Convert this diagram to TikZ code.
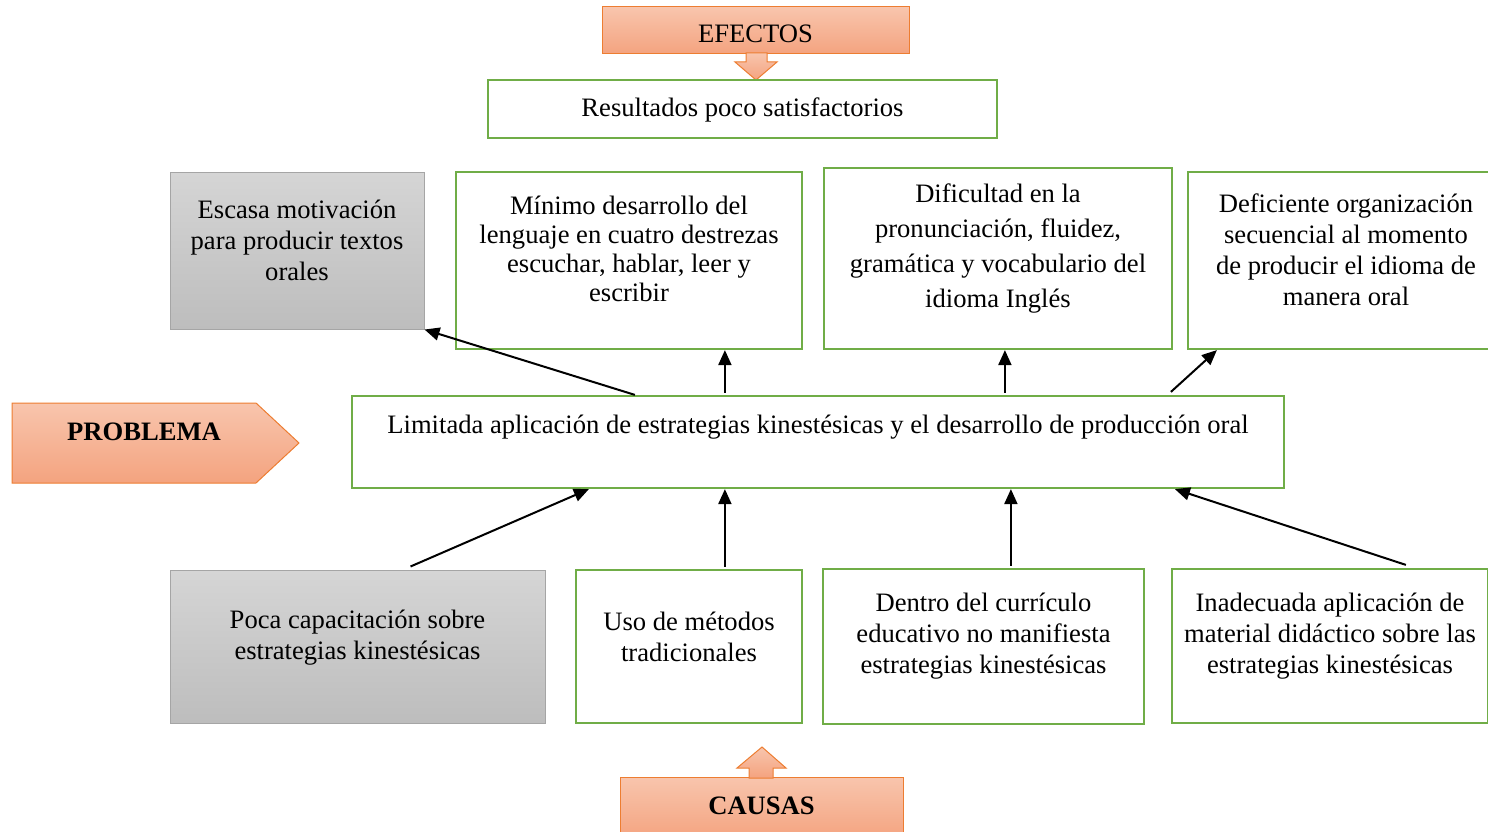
\documentclass[tikz,border=0pt]{standalone}
\usepackage{fontspec}
\setmainfont{Liberation Serif}
\usetikzlibrary{arrows.meta}
\definecolor{gbord}{HTML}{70AD47}
\definecolor{otop}{HTML}{F8C5AD}
\definecolor{obot}{HTML}{F4A37F}
\definecolor{obord}{HTML}{ED7D31}
\definecolor{gtop}{HTML}{D5D5D5}
\definecolor{gbot}{HTML}{BDBDBD}
\definecolor{gyb}{HTML}{A5A5A5}
\tikzset{
  gbox/.style={draw=gbord, line width=2.2pt, fill=white, inner sep=0pt},
  graybox/.style={draw=gyb, line width=1pt, top color=gtop, bottom color=gbot, inner sep=0pt},
  obox/.style={draw=obord, line width=1pt, top color=otop, bottom color=obot},
  txt/.style={align=center, inner sep=0pt, font=\fontsize{26.6}{31}\selectfont},
  conn/.style={line width=2pt, -{Triangle[length=15pt,width=13pt]}}
}
\begin{document}
\begin{tikzpicture}[x=1pt,y=-1pt]
\useasboundingbox (0,0) rectangle (1488,832);
% EFECTOS
\node[obox, inner sep=0pt, minimum width=307pt, minimum height=47pt] (efe) at (755.5,30.5) {};
\node[txt] (efet) at (755.5,34) {EFECTOS};
\path[obox] (746,53) -- (767,53) -- (767,62) -- (777,62) -- (756,80) -- (735,62) -- (746,62) -- cycle;
% Resultados
\node[gbox, minimum width=509pt, minimum height=58pt] (res) at (742.5,109) {};
\node[txt] (rest) at (742.5,110) {Resultados poco satisfactorios};
% effects row
\node[graybox, minimum width=254pt, minimum height=157pt] (esc) at (297,250.5) {};
\node[txt] (esct) at (297,240) {Escasa motivación\\para producir textos\\orales};
\node[gbox, minimum width=346pt, minimum height=177pt] (min) at (629,260.5) {};
\node[txt, font=\fontsize{26.6}{29}\selectfont] (mint) at (629,249) {Mínimo desarrollo del\\lenguaje en cuatro destrezas\\escuchar, hablar, leer y\\escribir};
\node[gbox, minimum width=348pt, minimum height=181pt] (dif) at (998,258.5) {};
\node[txt, font=\fontsize{26.6}{35}\selectfont] (dift) at (998,248.5) {Dificultad en la\\pronunciación, fluidez,\\gramática y vocabulario del\\idioma Inglés};
\node[gbox, minimum width=316pt, minimum height=177pt] (def) at (1346,260.5) {};
\node[txt] (deft) at (1346,250) {Deficiente organización\\secuencial al momento\\de producir el idioma de\\manera oral};
% PROBLEMA
\path[obox] (12,403) -- (256,403) -- (299,443) -- (256,483) -- (12,483) -- cycle;
\node[txt, font=\fontsize{26.6}{31}\selectfont\bfseries] (prob) at (144,432) {PROBLEMA};
% Limitada
\node[gbox, minimum width=932pt, minimum height=92pt] (lim) at (818,442) {};
\node[txt] (limt) at (818,427) {Limitada aplicación de estrategias kinestésicas y el desarrollo de producción oral};
% causes row
\node[graybox, minimum width=375pt, minimum height=153pt] (poca) at (357.5,646.5) {};
\node[txt] (pocat) at (357.5,637.5) {Poca capacitación sobre\\estrategias kinestésicas};
\node[gbox, minimum width=226pt, minimum height=153pt] (uso) at (689,646.5) {};
\node[txt] (usot) at (689,636.5) {Uso de métodos\\tradicionales};
\node[gbox, minimum width=321pt, minimum height=155pt] (den) at (983.5,646.5) {};
\node[txt] (dent) at (983.5,636.5) {Dentro del currículo\\educativo no manifiesta\\estrategias kinestésicas};
\node[gbox, minimum width=316pt, minimum height=154pt] (ina) at (1330,646) {};
\node[txt] (inat) at (1330,636) {Inadecuada aplicación de\\material didáctico sobre las\\estrategias kinestésicas};
% CAUSAS
\node[obox, inner sep=0pt, minimum width=283pt, minimum height=63pt] (cau) at (761.5,808.5) {};
\node[txt, font=\fontsize{26.6}{31}\selectfont\bfseries] (caut) at (761.5,806) {CAUSAS};
\path[obox] (749,778) -- (749,768) -- (737,768) -- (762,747) -- (786,768) -- (773,768) -- (773,778) -- cycle;
% connectors
\draw[conn] ([xshift=284pt]lim.north west) -- (esc.south east);
\draw[conn] ([xshift=374pt,yshift=2pt]lim.north west) -- ([xshift=270pt]min.south west);
\draw[conn] ([xshift=654pt,yshift=2pt]lim.north west) -- ([xshift=182pt]dif.south west);
\draw[conn] ([xshift=820pt,yshift=3pt]lim.north west) -- ([xshift=30pt]def.south west);
\draw[conn] ([xshift=241pt,yshift=3pt]poca.north west) -- ([xshift=238pt]lim.south west);
\draw[conn] ([xshift=150pt,yshift=2pt]uso.north west) -- ([xshift=374pt]lim.south west);
\draw[conn] ([xshift=189pt,yshift=2pt]den.north west) -- ([xshift=660pt]lim.south west);
\draw[conn] ([xshift=235pt,yshift=3pt]ina.north west) -- ([xshift=824pt]lim.south west);
\end{tikzpicture}
\end{document}
